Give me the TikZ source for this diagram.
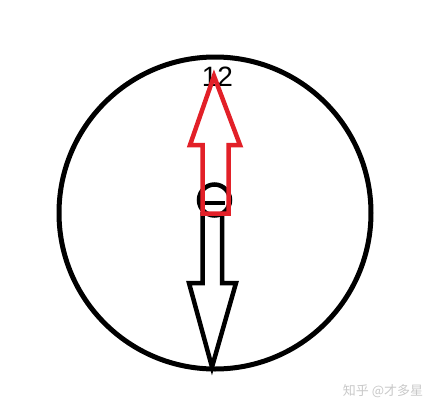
\documentclass[tikz,border=0pt]{standalone}
\usepackage{fontspec}
\setmainfont{Liberation Sans}
\newfontfamily\cjk{Noto Sans CJK SC}
\definecolor{arrowred}{RGB}{226,32,40}
\definecolor{markgray}{RGB}{200,200,200}

\begin{document}
\begin{tikzpicture}[x=1pt,y=-1pt]
    \useasboundingbox (0,0) rectangle (432,413);

    % Define coordinates for the clock
    \coordinate (O) at (215,213);
    \coordinate (H) at (214.5,200);

    % Draw the clock face
    \draw[line width=5pt] (O) circle (156);

    % Label at the top
    \node[font=\fontsize{28}{28}\selectfont, inner sep=0pt] (twelve) at (217.5,77) {12};

    % Draw the black arrow pointing down
    \draw[line width=4.5pt, line join=miter]
        (202.5,212) -- (202.5,283) -- (189,283) -- (212,367)
        -- (236,283) -- (222,283) -- (222,212);

    % Draw the small hub with its bar
    \draw[line width=4.5pt] (H) circle (15.5);
    \draw[line width=4pt] (205,203) -- (225,203);

    % Draw the red arrow pointing up
    \draw[arrowred, line width=4.5pt, line join=miter]
        (202.5,213.5) -- (202.5,145) -- (190,145) -- (214,76)
        -- (240,145) -- (228.5,145) -- (228.5,213.5) -- cycle;

    % Watermark
    \node[markgray, font=\cjk\fontsize{13}{13}\selectfont, inner sep=0pt] (mark) at (383,391) {知乎 @才多星};
\end{tikzpicture}
\end{document}
